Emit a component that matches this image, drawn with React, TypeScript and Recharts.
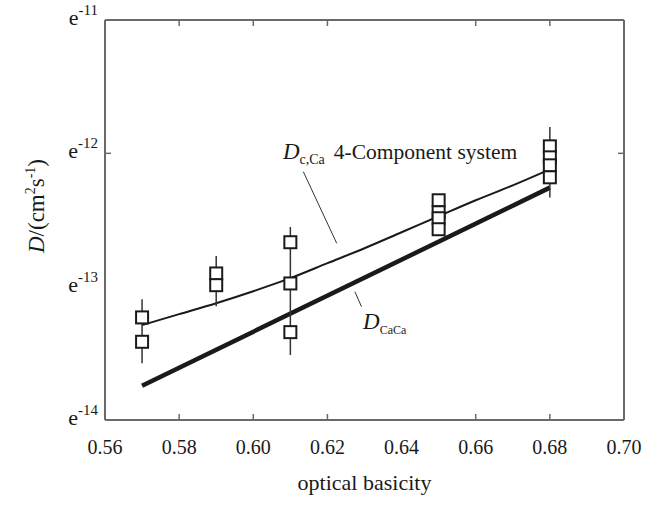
import React from 'react';
import {
  ComposedChart,
  Line,
  Scatter,
  XAxis,
  YAxis,
  ErrorBar,
  ReferenceLine,
  ReferenceDot,
} from 'recharts';

const FONT = '"Liberation Serif", "Times New Roman", serif';
const AXIS_COLOR = '#6a6a6a';
const INK = '#1a1a1a';

// x axis (optical basicity)
const basicityTicks = [0.56, 0.58, 0.6, 0.62, 0.64, 0.66, 0.68, 0.7];
const basicityTickLabels = ['0.56', '0.58', '0.60', '0.62', '0.64', '0.66', '0.68', '0.70'];
const basicityInnerTicks = [0.58, 0.6, 0.62, 0.66, 0.68];

// y axis (D, log scale)
const dTicks = [1e-14, 1e-13, 1e-12, 1e-11];
const dTickExponents = ['-14', '-13', '-12', '-11'];
const dInnerTicks = [1e-12];

// measured points (squares)
const measuredBasicity = [0.57, 0.57, 0.59, 0.59, 0.61, 0.61, 0.61, 0.65, 0.65, 0.65, 0.65, 0.68, 0.68, 0.68, 0.68];
const measuredD = [
  5.88e-14, 3.86e-14,
  1.256e-13, 1.026e-13,
  2.154e-13, 1.057e-13, 4.56e-14,
  4.445e-13, 3.614e-13, 3.26e-13, 2.696e-13,
  1.128e-12, 9.33e-13, 8.13e-13, 6.61e-13,
];

// error bar extents
const errorBasicity = [0.57, 0.59, 0.61, 0.68];
const errorTop = [8.06e-14, 1.701e-13, 2.805e-13, 1.574e-12];
const errorBottom = [2.67e-14, 7.14e-14, 3.07e-14, 4.66e-13];

// D c,Ca 4-component system curve
const fitBasicity = [0.57, 0.58, 0.59, 0.6, 0.61, 0.62, 0.63, 0.64, 0.65, 0.66, 0.67, 0.68];
const fit4Component = [
  5.148e-14, 6.223e-14, 7.52e-14, 9.25e-14, 1.158e-13, 1.5e-13,
  1.943e-13, 2.559e-13, 3.374e-13, 4.445e-13, 5.757e-13, 7.588e-13,
];

// D CaCa line
const caCaBasicity = [0.57, 0.68];
const caCaD = [1.807e-14, 5.53e-13];

const measuredData = measuredBasicity.map((x, i) => ({ x, y: measuredD[i] }));
const errorData = errorBasicity.map((x, i) => ({
  x,
  y: errorTop[i],
  err: [errorTop[i] - errorBottom[i], 0],
}));
const fitData = fitBasicity.map((x, i) => ({ x, y: fit4Component[i] }));
const caCaData = caCaBasicity.map((x, i) => ({ x, y: caCaD[i] }));

const near = (a: number, b: number) => Math.abs(a - b) < 1e-9 * Math.max(Math.abs(a), Math.abs(b), 1e-20);

const BottomTick = (props: any) => {
  const { x, y, payload } = props;
  const v = payload.value;
  const idx = basicityTicks.findIndex((t) => Math.abs(t - v) < 1e-9);
  const inner = basicityInnerTicks.some((t) => Math.abs(t - v) < 1e-9);
  return (
    <g>
      {inner && <line x1={x} x2={x} y1={y} y2={y - 6} stroke={AXIS_COLOR} strokeWidth={1.5} />}
      <text x={x} y={y + 34} textAnchor="middle" fontSize={20} fontFamily={FONT} fill={INK}>
        {idx >= 0 ? basicityTickLabels[idx] : ''}
      </text>
    </g>
  );
};

const TopTick = (props: any) => {
  const { x, y, payload } = props;
  const inner = basicityInnerTicks.some((t) => Math.abs(t - payload.value) < 1e-9);
  return <g>{inner && <line x1={x} x2={x} y1={y} y2={y + 6} stroke={AXIS_COLOR} strokeWidth={1.5} />}</g>;
};

const LeftTick = (props: any) => {
  const { x, y, payload } = props;
  const v = payload.value;
  const idx = dTicks.findIndex((t) => near(t, v));
  const inner = dInnerTicks.some((t) => near(t, v));
  return (
    <g>
      {inner && <line x1={x} x2={x + 6} y1={y} y2={y} stroke={AXIS_COLOR} strokeWidth={1.5} />}
      <text x={x - 7} y={y + 5} textAnchor="end" fontFamily={FONT} fill={INK}>
        <tspan fontSize={22}>e</tspan>
        <tspan fontSize={15} dy={-10}>{idx >= 0 ? dTickExponents[idx] : ''}</tspan>
      </text>
    </g>
  );
};

const RightTick = (props: any) => {
  const { x, y, payload } = props;
  const inner = dInnerTicks.some((t) => near(t, payload.value));
  return <g>{inner && <line x1={x} x2={x - 6} y1={y} y2={y} stroke={AXIS_COLOR} strokeWidth={1.5} />}</g>;
};

const Square = (props: any) => {
  const { cx, cy } = props;
  if (cx == null || cy == null) return <g />;
  return <rect x={cx - 6} y={cy - 6} width={12} height={12} fill="#fff" stroke={INK} strokeWidth={2} />;
};

const Empty = () => <g />;

const XTitle = (props: any) => {
  const vb = props.viewBox || { x: 105, y: 420, width: 519, height: 88 };
  return (
    <text x={vb.x + vb.width / 2} y={vb.y + 70} textAnchor="middle" fontSize={22} fontFamily={FONT} fill={INK}>
      optical basicity
    </text>
  );
};

const YTitle = (props: any) => {
  const vb = props.viewBox || { x: 0, y: 20, width: 105, height: 400 };
  const cx = 44;
  const cy = vb.y + vb.height / 2 - 14;
  return (
    <text
      x={cx}
      y={cy}
      transform={`rotate(-90, ${cx}, ${cy})`}
      textAnchor="middle"
      fontSize={23}
      fontFamily={FONT}
      fill={INK}
    >
      <tspan fontStyle="italic">D</tspan>
      <tspan>/(cm</tspan>
      <tspan fontSize={14} dy={-9}>2</tspan>
      <tspan dy={9}>s</tspan>
      <tspan fontSize={14} dy={-9}>-1</tspan>
      <tspan dy={9}>)</tspan>
    </text>
  );
};

const Annotation4Comp = (props: any) => {
  const { cx, cy } = props;
  return (
    <text x={cx} y={cy} fontFamily={FONT} fill={INK}>
      <tspan fontSize={23} fontStyle="italic">D</tspan>
      <tspan fontSize={14} dy={5}>c,Ca</tspan>
      <tspan fontSize={21.5} dy={-5} dx={9}>4-Component system</tspan>
    </text>
  );
};

const AnnotationCaCa = (props: any) => {
  const { cx, cy } = props;
  return (
    <text x={cx} y={cy} fontFamily={FONT} fill={INK}>
      <tspan fontSize={23} fontStyle="italic">D</tspan>
      <tspan fontSize={12} dy={5}>CaCa</tspan>
    </text>
  );
};

export default function App() {
  return (
    <div style={{ position: 'absolute', left: 0, top: 0, width: 658, height: 508, background: '#fff' }}>
      <ComposedChart width={658} height={508} margin={{ top: 0, right: 0, bottom: 0, left: 0 }}>
        <XAxis
          dataKey="x"
          type="number"
          domain={[0.56, 0.7]}
          ticks={basicityTicks}
          interval={0}
          allowDataOverflow
          height={88}
          tickSize={0}
          tickMargin={0}
          tickLine={false}
          axisLine={{ stroke: AXIS_COLOR, strokeWidth: 2 }}
          tick={<BottomTick />}
          label={{ content: <XTitle /> }}
        />
        <XAxis
          xAxisId="top"
          orientation="top"
          dataKey="x"
          type="number"
          domain={[0.56, 0.7]}
          ticks={basicityTicks}
          interval={0}
          allowDataOverflow
          height={20}
          tickSize={0}
          tickMargin={0}
          tickLine={false}
          axisLine={{ stroke: AXIS_COLOR, strokeWidth: 2 }}
          tick={<TopTick />}
        />
        <YAxis
          type="number"
          scale="log"
          domain={[1e-14, 1e-11]}
          ticks={dTicks}
          interval={0}
          allowDataOverflow
          width={105}
          tickSize={0}
          tickMargin={0}
          tickLine={false}
          axisLine={{ stroke: AXIS_COLOR, strokeWidth: 2 }}
          tick={<LeftTick />}
          label={{ content: <YTitle /> }}
        />
        <YAxis
          yAxisId="right"
          orientation="right"
          type="number"
          scale="log"
          domain={[1e-14, 1e-11]}
          ticks={dTicks}
          interval={0}
          allowDataOverflow
          width={34}
          tickSize={0}
          tickMargin={0}
          tickLine={false}
          axisLine={{ stroke: AXIS_COLOR, strokeWidth: 2 }}
          tick={<RightTick />}
        />

        <ReferenceLine
          segment={[{ x: 0.6135, y: 7.28e-13 }, { x: 0.6225, y: 2.115e-13 }]}
          stroke="#333"
          strokeWidth={1}
          ifOverflow="visible"
        />
        <ReferenceLine
          segment={[{ x: 0.6274, y: 9.17e-14 }, { x: 0.6292, y: 7.07e-14 }]}
          stroke="#333"
          strokeWidth={1}
          ifOverflow="visible"
        />

        <Line
          data={caCaData}
          dataKey="y"
          type="linear"
          stroke={INK}
          strokeWidth={4.5}
          dot={false}
          activeDot={false}
          isAnimationActive={false}
        />
        <Line
          data={fitData}
          dataKey="y"
          type="monotone"
          stroke={INK}
          strokeWidth={2}
          dot={false}
          activeDot={false}
          isAnimationActive={false}
        />
        <Scatter data={errorData} dataKey="y" shape={<Empty />} isAnimationActive={false}>
          <ErrorBar dataKey="err" direction="y" width={0} stroke="#333" strokeWidth={1.5} />
        </Scatter>
        <Scatter data={measuredData} dataKey="y" shape={<Square />} isAnimationActive={false} />

        <ReferenceDot x={0.608} y={9.07e-13} r={0} ifOverflow="visible" shape={<Annotation4Comp />} />
        <ReferenceDot x={0.6296} y={4.81e-14} r={0} ifOverflow="visible" shape={<AnnotationCaCa />} />
      </ComposedChart>
    </div>
  );
}
